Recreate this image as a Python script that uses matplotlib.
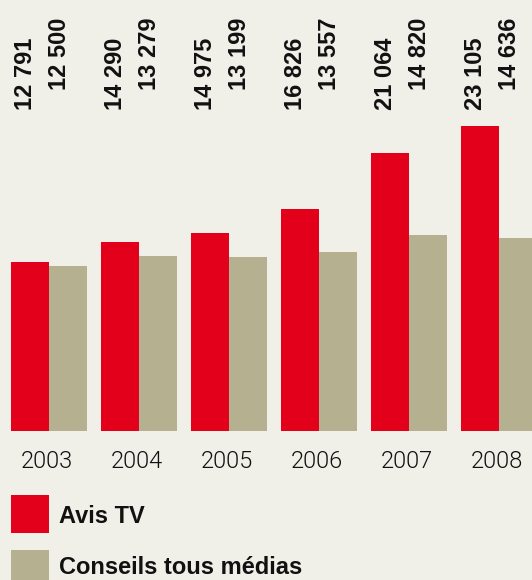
# Avis TV vs Conseils tous medias, 2003-2008

import numpy as np
import matplotlib
matplotlib.use("Agg")
import matplotlib.pyplot as plt
from matplotlib.patches import Rectangle

plt.rcParams['font.family'] = ['Liberation Sans', 'DejaVu Sans']

years = ["2003", "2004", "2005", "2006", "2007", "2008"]
avis_tv = [12791, 14290, 14975, 16826, 21064, 23105]
conseils = [12500, 13279, 13199, 13557, 14820, 14636]
series_names = ["Avis TV", "Conseils tous médias"]

red = "#e2001a"
khaki = "#b5b08f"
bg = "#f0efe8"

W, H = 532, 580
fig = plt.figure(figsize=(W / 100, H / 100), dpi=100, facecolor=bg)

# axes: spans full width, bottom at y=431px from top
ax = fig.add_axes([0, (H - 431) / H, 1, 431 / H])
ax.set_facecolor(bg)

x = np.arange(len(years))
w = 38 / 90
ax.bar(x - w / 2, avis_tv, width=w, color=red, linewidth=0)
ax.bar(x + w / 2, conseils, width=w, color=khaki, linewidth=0)

ax.set_xlim(-49 / 90, (W - 49) / 90)
ax.set_ylim(0, 23105 * 431 / 305)

for s in ax.spines.values():
    s.set_visible(False)
ax.set_yticks([])
ax.set_xticks(x - 0.02)
ax.set_xticklabels(years, fontsize=17, color="#111111", family=['Roboto', 'Liberation Sans'],
                   fontweight=300)
ax.tick_params(axis='x', length=0, pad=14)

def fmt(v):
    return f"{v:,}".replace(",", " ")

trans = ax.get_xaxis_transform()
for i in range(len(years)):
    ax.text(x[i] - w / 2 - 0.045, (431 - 110) / 431, fmt(avis_tv[i]), transform=trans,
            rotation=90, ha='center', va='bottom', fontsize=17, fontweight='bold', color="#111111")
    ax.text(x[i] + w / 2 - 0.09, (431 - 90) / 431, fmt(conseils[i]), transform=trans,
            rotation=90, ha='center', va='bottom', fontsize=17, fontweight='bold', color="#111111")

# legend
fig.patches.append(Rectangle((11 / W, (H - 533) / H), 38 / W, 38 / H, transform=fig.transFigure,
                             facecolor=red, edgecolor='none'))
fig.patches.append(Rectangle((11 / W, (H - 588) / H), 38 / W, 38 / H, transform=fig.transFigure,
                             facecolor=khaki, edgecolor='none'))
fig.text(59 / W, (H - 523) / H, series_names[0], fontsize=17, fontweight='bold',
         va='baseline', ha='left', color="#111111")
fig.text(59 / W, (H - 574) / H, series_names[1], fontsize=17, fontweight='bold',
         va='baseline', ha='left', color="#111111")

fig.savefig("out.png", dpi=100, facecolor=bg)
